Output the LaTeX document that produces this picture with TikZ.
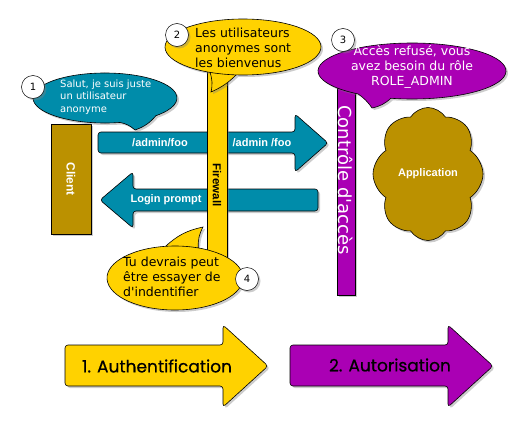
\documentclass[tikz,border=0pt]{standalone}
\usepackage{fontspec}
\setmainfont{DejaVu Sans}
\newfontfamily\etiq{Liberation Sans}
\newfontfamily\etape[FakeBold=0.6]{Poppins}
\usetikzlibrary{shapes.symbols,shadows}
\definecolor{ocre}{RGB}{187,145,0}
\definecolor{bleu}{RGB}{0,140,170}
\definecolor{jaune}{RGB}{255,210,0}
\definecolor{pourpre}{RGB}{170,0,180}
\begin{document}
\begin{tikzpicture}[x=1pt,y=-1pt,
    ombre/.style={drop shadow={shadow xshift=2pt,shadow yshift=-2pt,opacity=0.4}},
    bloc/.style={draw=black,line width=0.6pt,ombre},
    fleche/.style={bloc,rounded corners=3pt},
    numero/.style={circle,draw=black,fill=white,line width=0.5pt,minimum size=23pt,inner sep=0pt,font=\fontsize{10}{10}\selectfont,ombre},
    etiquette/.style={text=white,font=\etiq\bfseries\fontsize{11}{13}\selectfont},
    texte/.style={align=left,inner sep=0pt,font=\fontsize{12.5}{15}\selectfont}]
    \useasboundingbox (0,0) rectangle (526,428);
    % client
    \draw[bloc,fill=ocre] (51,124) rectangle (91,234);
    \node[etiquette,rotate=-90,font=\etiq\bfseries\fontsize{12}{14}\selectfont] (client) at (71,179) {Client};
    % requetes
    \draw[fleche,fill=bleu] (98,132) -- (295,132) -- (295,114) -- (328,143) -- (295,172) -- (295,153) -- (98,153) -- cycle;
    \node[etiquette] (req1) at (160,143) {/admin/foo};
    \node[etiquette] (req2) at (262,143) {/admin /foo};
    \draw[fleche,fill=bleu] (318,189) -- (133,189) -- (133,172) -- (100,200) -- (133,228) -- (133,211) -- (318,211) -- cycle;
    \node[etiquette] (login) at (166,200) {Login prompt};
    % firewall et controle
    \draw[bloc,fill=jaune] (207,60) rectangle (227,292);
    \node[rotate=-90,font=\etiq\bfseries\fontsize{11.5}{13}\selectfont] (firewall) at (217,185) {Firewall};
    \draw[bloc,fill=pourpre] (337,70) rectangle (355,295);
    \node[rotate=-90,text=white,font=\fontsize{18}{20}\selectfont] (acces) at (346,180) {Contrôle d\textquotesingle accès};
    % application
    \node[cloud,cloud puffs=8,cloud puff arc=115,bloc,fill=ocre,minimum width=110pt,minimum height=133pt,etiquette] (appli) at (428,174) {Application};
    % bulle 1
    \path (105,98) ++(78:72 and 25) coordinate (g1);
    \draw[bloc,fill=bleu] (g1) arc[start angle=78,end angle=405,x radius=72,y radius=25] to[bend left=15] (135,130) to[bend right=15] (g1) -- cycle;
    \node[texte,anchor=west,text=white,font=\fontsize{10}{12.5}\selectfont] (txt1) at (60,97) {Salut, je suis juste\\un utilisateur\\anonyme};
    \node[numero] (n1) at (33,87) {1};
    % bulle 2
    \path (243,47) ++(95:78 and 28) coordinate (g2);
    \draw[bloc,fill=jaune] (g2) arc[start angle=95,end angle=475,x radius=78,y radius=28] to[bend left=15] (211,92) to[bend right=10] (g2) -- cycle;
    \node[texte,anchor=west] (txt2) at (195,48) {Les utilisateurs\\anonymes sont\\les bienvenus};
    \node[numero] (n2) at (177,35) {2};
    % bulle 3
    \path (412,71) ++(125:94 and 28) coordinate (g3);
    \draw[bloc,fill=pourpre] (g3) arc[start angle=125,end angle=463,x radius=94,y radius=28] to[bend left=15] (372,108) to[bend right=10] (g3) -- cycle;
    \node[texte,align=center,text=white] (txt3) at (412,67) {Accès refusé, vous\\avez besoin du rôle\\ROLE\_ADMIN};
    \node[numero] (n3) at (343,40) {3};
    % bulle 4
    \path (175,278) ++(262:68 and 32) coordinate (g4);
    \draw[bloc,fill=jaune] (g4) arc[start angle=262,end angle=650,x radius=68,y radius=32] to[bend left=15] (203,227) to[bend right=15] (g4) -- cycle;
    \node[texte,anchor=west] (txt4) at (123,277) {Tu devrais peut\\être essayer de\\d\textquotesingle indentifier};
    \node[numero] (n4) at (247,279) {4};
    % etapes
    \draw[fleche,fill=jaune] (65,345) -- (223,345) -- (223,325) -- (268,366) -- (223,407) -- (223,386) -- (65,386) -- cycle;
    \node[font=\etape\fontsize{17}{20}\selectfont] (authn) at (157,366) {1. Authentification};
    \draw[fleche,fill=pourpre] (290,345) -- (448,345) -- (448,325) -- (493,366) -- (448,407) -- (448,386) -- (290,386) -- cycle;
    \node[font=\etape\fontsize{17}{20}\selectfont] (autor) at (390,365) {2. Autorisation};
\end{tikzpicture}
\end{document}
